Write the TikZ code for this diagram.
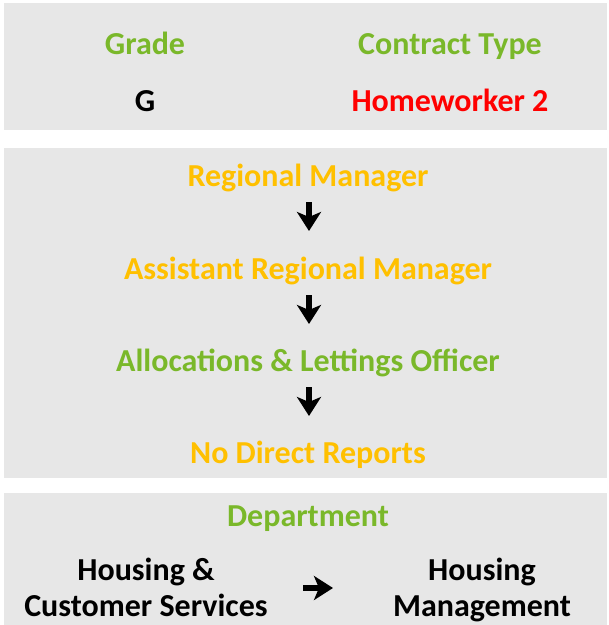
\documentclass[tikz,border=0pt]{standalone}
\usepackage{fontspec}
\setmainfont{Carlito}
\usetikzlibrary{arrows.meta}

\definecolor{panelgrey}{RGB}{231,231,231}
\definecolor{titlegreen}{RGB}{122,184,42}
\definecolor{rolegold}{RGB}{255,192,0}
\definecolor{typered}{RGB}{255,0,0}

\tikzset{
  panel/.style = {fill=panelgrey, draw=none},
  label/.style = {font=\bfseries\fontsize{32}{37}\selectfont, inner sep=0pt, anchor=base},
  heading/.style = {label, text=titlegreen},
  role/.style = {label, text=rolegold},
  plain/.style = {label, text=black},
  step arrow/.style = {line width=6pt, -{Stealth[length=19pt, width=24pt, inset=5pt]}, black}
}

\begin{document}
\begin{tikzpicture}[x=1pt, y=-1pt]

		\useasboundingbox (0, 0) rectangle (609, 625);

		% panels
		\fill[panel] (4, 3) rectangle (607, 130);
		\fill[panel] (4, 148) rectangle (607, 478);
		\fill[panel] (4, 493) rectangle (607, 625);

		% grade and contract
		\node[heading] (grade) at (145, 54) {Grade};
		\node[heading] (contract) at (450, 54) {Contract Type};
		\node[plain] (gradeval) at (145, 111) {G};
		\node[label, text=typered] (contractval) at (450, 111) {Homeworker 2};

		% reporting line
		\node[role] (rm) at (308, 186) {Regional Manager};
		\node[role] (arm) at (308, 279) {Assistant Regional Manager};
		\node[heading] (alo) at (308, 371) {Allocations \& Lettings Officer};
		\node[role] (ndr) at (308, 463) {No Direct Reports};

		\coordinate (a1top) at (309, 202);
		\coordinate (a1end) at (309, 231);
		\coordinate (a2top) at (309, 295);
		\coordinate (a2end) at (309, 324);
		\coordinate (a3top) at (309, 387);
		\coordinate (a3end) at (309, 416);

		\draw[step arrow] (a1top) -- (a1end);
		\draw[step arrow] (a2top) -- (a2end);
		\draw[step arrow] (a3top) -- (a3end);

		% department
		\node[heading] (dept) at (308, 526) {Department};
		\node[plain] (olddept1) at (146, 580) {Housing \&};
		\node[plain] (olddept2) at (146, 616) {Customer Services};
		\node[plain] (newdept1) at (482, 580) {Housing};
		\node[plain] (newdept2) at (482, 616) {Management};

		\coordinate (mvstart) at (303, 588);
		\coordinate (mvend) at (333, 588);
		\draw[step arrow] (mvstart) -- (mvend);

\end{tikzpicture}
\end{document}
